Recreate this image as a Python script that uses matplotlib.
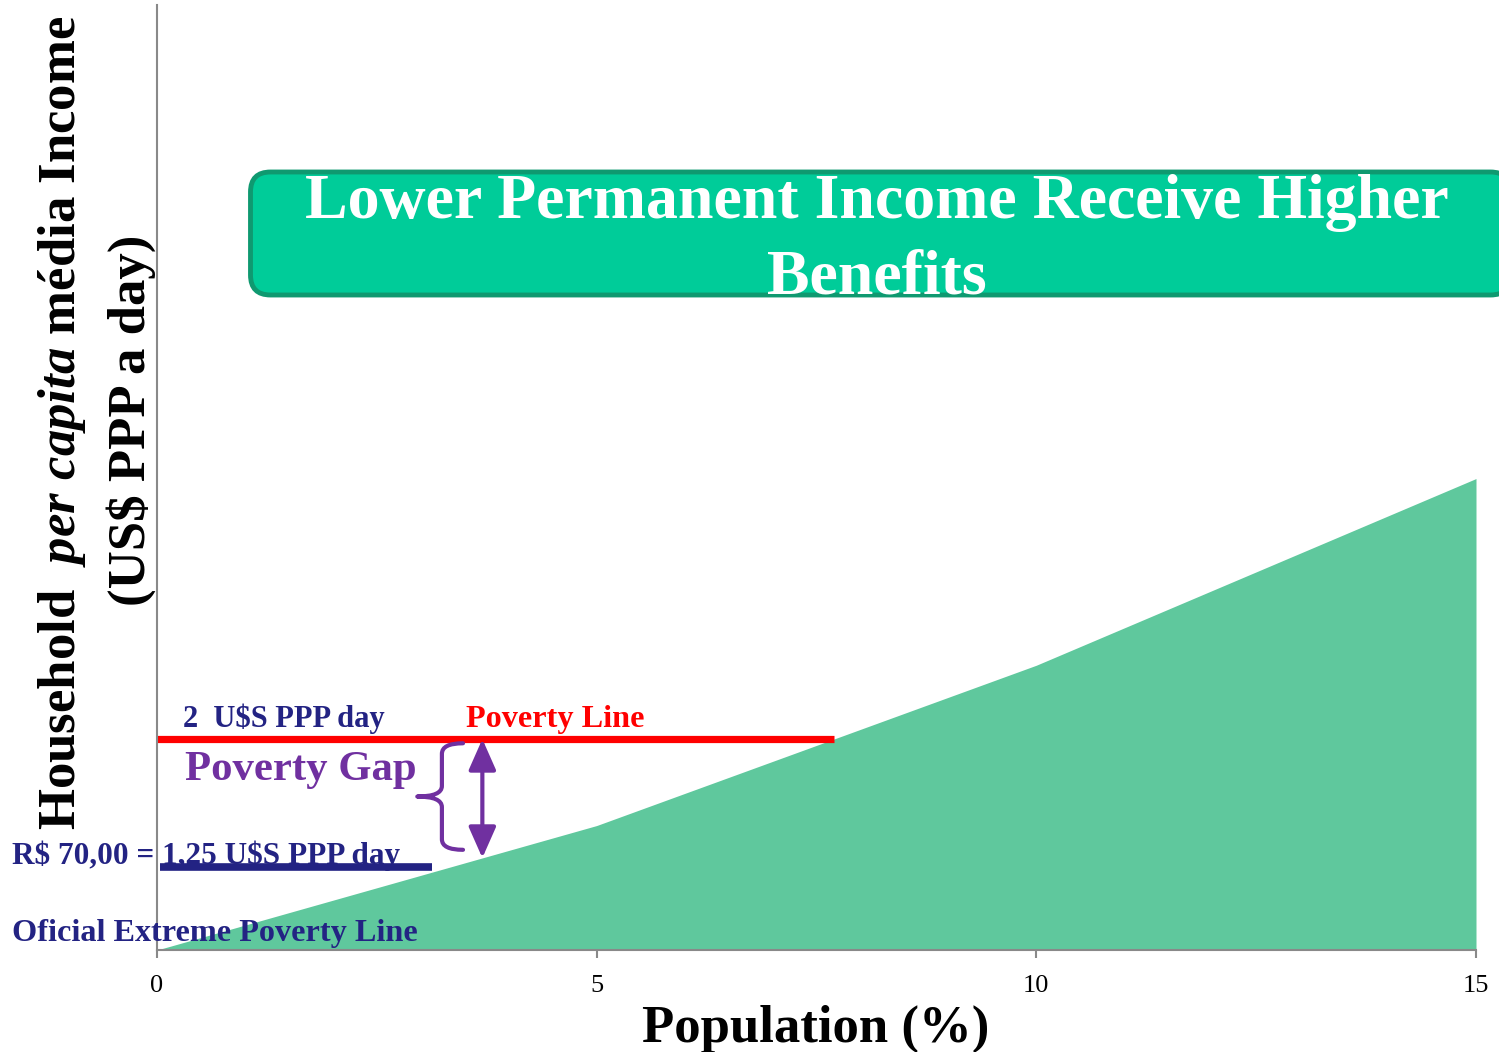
import numpy as np
import matplotlib
matplotlib.use("Agg")
import matplotlib.pyplot as plt
from matplotlib.patches import FancyBboxPatch, PathPatch
from matplotlib.path import Path

plt.rcParams['font.family'] = ['Liberation Serif', 'DejaVu Serif']
plt.rcParams['mathtext.fontset'] = 'custom'
plt.rcParams['mathtext.rm'] = 'Liberation Serif:bold'
plt.rcParams['mathtext.it'] = 'Liberation Serif:italic:bold'
plt.rcParams['mathtext.bf'] = 'Liberation Serif:bold'

# ---- data ----
population = [0, 5, 10, 15]                 # % of population
income = [0.0, 1.18, 2.70, 4.47]            # household per capita income (chart units)
poverty_line = 2.0
extreme_line = 0.79
extreme_line_x = [0.03, 3.13]
gap_x = 3.70
x_ticks = [0, 5, 10, 15]
x_tick_labels = ["0", "5", "10", "15"]
y_max = 8.96

NAVY = "#232383"
RED = "#FF0000"
PURPLE = "#7030A0"
AREA = "#5FC89D"
BOX = "#00CC99"
BOX_EDGE = "#0F9970"
AXIS = "#898989"

W, H = 1499, 1052
fig = plt.figure(figsize=(W / 100, H / 100), dpi=100)
ax = fig.add_axes([157 / W, 102 / H, 1319 / W, 945 / H])

def fx(px):
    return px / W

def fy(py):
    return 1 - py / H

ax.fill_between(population, income, 0, color=AREA, lw=0, zorder=1)

# poverty line ends where it meets the income curve
pov_end = float(np.interp(poverty_line, income, population))
ax.plot([0, pov_end], [poverty_line, poverty_line], color=RED, lw=5.2,
        solid_capstyle='butt', zorder=3)
ax.plot(extreme_line_x, [extreme_line, extreme_line], color=NAVY, lw=5.5,
        solid_capstyle='butt', zorder=3)

# poverty gap arrow
y_curve = float(np.interp(gap_x, population, income))
ax.annotate("", xy=(gap_x, poverty_line), xytext=(gap_x, y_curve),
            arrowprops=dict(arrowstyle="<|-|>,head_length=0.95,head_width=0.42",
                            color=PURPLE, lw=3, shrinkA=0, shrinkB=0,
                            mutation_scale=20), zorder=4)

# curly brace
bx_end, bx_mid, bx_tip = 3.48, 3.24, 2.96
by_top, by_bot = 1.96, 0.95
by_mid = (by_top + by_bot) / 2
verts = [(bx_end, by_top), (bx_mid, by_top), (bx_mid, by_top - 0.10),
         (bx_mid, by_mid + 0.10),
         (bx_mid, by_mid), (bx_tip, by_mid),
         (bx_mid, by_mid), (bx_mid, by_mid - 0.10),
         (bx_mid, by_bot + 0.10),
         (bx_mid, by_bot), (bx_end, by_bot)]
codes = [Path.MOVETO, Path.CURVE3, Path.CURVE3,
         Path.LINETO,
         Path.CURVE3, Path.CURVE3,
         Path.CURVE3, Path.CURVE3,
         Path.LINETO,
         Path.CURVE3, Path.CURVE3]
ax.add_patch(PathPatch(Path(verts, codes), fill=False, edgecolor=PURPLE,
                       lw=3, capstyle='round', joinstyle='round', zorder=4))

ax.set_xlim(0, 15)
ax.set_ylim(0, y_max)
for s in ['top', 'right']:
    ax.spines[s].set_visible(False)
for s in ['left', 'bottom']:
    ax.spines[s].set_color(AXIS)
    ax.spines[s].set_linewidth(1.5)
    ax.spines[s].set_zorder(5)
ax.set_yticks([])
ax.set_xticks(x_ticks)
ax.set_xticklabels(x_tick_labels, fontsize=19)
ax.tick_params(axis='x', direction='out', length=6, width=1.5, color=AXIS,
               pad=12)

# axis titles
fig.text(fx(816), fy(1042), "Population (%)", ha='center', va='baseline',
         fontsize=38, fontweight='bold', parse_math=False)
fig.text(fx(75), fy(830), r"Household  $\mathit{per\ capita}$ média Income",
         rotation=90, rotation_mode='anchor', ha='left', va='baseline',
         fontsize=38, fontweight='bold')
fig.text(fx(145), fy(420), "(US$ PPP a day)", rotation=90,
         rotation_mode='anchor', ha='center', va='baseline',
         fontsize=38, fontweight='bold', parse_math=False)

# annotations
fig.text(fx(183), fy(727), "2  U$S PPP day", ha='left', va='baseline',
         fontsize=22, fontweight='bold', color=NAVY, parse_math=False)
fig.text(fx(466), fy(727), "Poverty Line", ha='left', va='baseline',
         fontsize=23.2, fontweight='bold', color=RED)
fig.text(fx(185), fy(780), "Poverty Gap", ha='left', va='baseline',
         fontsize=30.8, fontweight='bold', color=PURPLE)
fig.text(fx(12), fy(864), "R$ 70,00 = 1,25 U$S PPP day", ha='left',
         va='baseline', fontsize=22.5, fontweight='bold', color=NAVY,
         zorder=6, parse_math=False)
fig.text(fx(12), fy(941), "Oficial Extreme Poverty Line", ha='left',
         va='baseline', fontsize=23.2, fontweight='bold', color=NAVY, zorder=6)

# title box
box = FancyBboxPatch((2.505, (H - 295) / 100), 12.6, 1.23,
                     boxstyle="round,pad=0,rounding_size=0.2",
                     transform=fig.dpi_scale_trans, facecolor=BOX,
                     edgecolor=BOX_EDGE, lw=3.5, zorder=10)
fig.add_artist(box)
fig.text(fx(877), fy(218), "Lower Permanent Income Receive Higher",
         ha='center', va='baseline', fontsize=46, fontweight='bold',
         color='white', zorder=11)
fig.text(fx(877), fy(293), "Benefits", ha='center', va='baseline',
         fontsize=46, fontweight='bold', color='white', zorder=11)

fig.savefig("out.png", dpi=100)
